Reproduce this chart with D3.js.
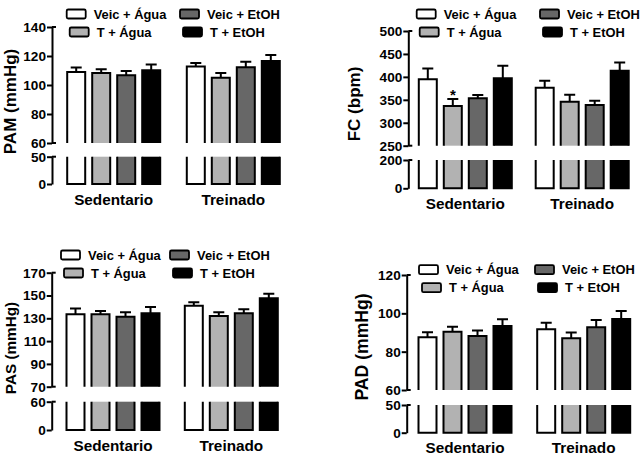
<!DOCTYPE html>
<html><head><meta charset="utf-8">
<script src="https://cdn.jsdelivr.net/npm/d3@7/dist/d3.min.js"></script>
<style>
body{margin:0;background:#fff;}
svg{display:block;font-family:"Liberation Sans",Arial,sans-serif;font-weight:bold;}
</style></head>
<body><svg id="c" width="641" height="468"></svg>
<script>
// ---- data ----
const groups = ["Sedentario", "Treinado"];
const series = ["Veic + Água", "T + Água", "Veic + EtOH", "T + EtOH"];
const seriesColors = ["#ffffff", "#b2b2b2", "#676767", "#000000"];

// values ordered: Sedentario x 4 series, then Treinado x 4 series
const pamMean = [109, 108.3, 106.7, 110.1, 112.7, 105, 112.2, 116.6];
const pamSem  = [3, 2.5, 3, 4, 2.5, 3.3, 3.8, 4.1];
const fcMean  = [395, 336.6, 353.4, 397, 376.5, 346, 338.8, 413.5];
const fcSem   = [23, 15, 7, 27, 15, 15, 9, 18];
const pasMean = [133.5, 133.5, 131.4, 134.4, 141, 132, 134.4, 147.5];
const pasSem  = [5, 3, 4, 5.5, 3, 3.3, 3.5, 4];
const padMean = [87.5, 90.4, 88.2, 93.4, 91.7, 87, 92.7, 97];
const padSem  = [2.6, 2.6, 2.8, 3.5, 3.4, 3, 3.8, 4.2];

const pamTicksUpper = [60, 80, 100, 120, 140];
const pamTicksLower = [0, 50];
const fcTicksUpper  = [250, 300, 350, 400, 450, 500];
const fcTicksLower  = [0, 200];
const pasTicksUpper = [70, 90, 110, 130, 150, 170];
const pasTicksLower = [0, 60];
const padTicksUpper = [60, 80, 100, 120];
const padTicksLower = [0, 50];

const fcStars = [{group: "Sedentario", series: "T + Água", text: "*"}];

// ---- layout (pixel positions only) ----
const panels = [
  {title: "PAM (mmHg)", mean: pamMean, sem: pamSem, tu: pamTicksUpper, tl: pamTicksLower, stars: [],
   ax: 52, up: [143, 27], lo: [184, 156.7], gc: [113.7, 233.3],
   tx: 10.5, ty: 101.5, tfs: 17, lx: 66.7, lx2: 180, ly: 14},
  {title: "FC (bpm)", mean: fcMean, sem: fcSem, tu: fcTicksUpper, tl: fcTicksLower, stars: fcStars,
   ax: 408.3, up: [145.7, 31], lo: [188.3, 160], gc: [465.3, 582.2],
   tx: 354, ty: 104, tfs: 17, lx: 416.7, lx2: 540, ly: 14},
  {title: "PAS (mmHg)", mean: pasMean, sem: pasSem, tu: pasTicksUpper, tl: pasTicksLower, stars: [],
   ax: 51.7, up: [386.7, 272.7], lo: [430, 401.7], gc: [113, 231.3],
   tx: 10, ty: 348, tfs: 15.3, lx: 61, lx2: 170, ly: 255},
  {title: "PAD (mmHg)", mean: padMean, sem: padSem, tu: padTicksUpper, tl: padTicksLower, stars: [],
   ax: 406.7, up: [390, 275], lo: [432.7, 405], gc: [465, 583.7],
   tx: 362, ty: 347, tfs: 17.6, lx: 419, lx2: 535, ly: 269.7}
];

const svg = d3.select("#c");

panels.forEach(p => {
  const g = svg.append("g");
  const yU = d3.scaleLinear().domain(d3.extent(p.tu)).range(p.up);
  const yL = d3.scaleLinear().domain(d3.extent(p.tl)).range(p.lo);
  const x0 = d3.scaleOrdinal().domain(groups).range(p.gc);
  const x1 = d3.scaleBand().domain(series).range([-46.5, 46.5]).paddingInner(0.28);
  const bw = x1.bandwidth();

  const data = [];
  groups.forEach((gr, gi) => series.forEach((s, si) => {
    data.push({group: gr, series: s, ci: si, mean: p.mean[gi * 4 + si], sem: p.sem[gi * 4 + si]});
  }));
  const bx = d => x0(d.group) + x1(d.series);

  // lower bar segments (open top)
  g.selectAll(".lb").data(data).join("path")
    .attr("d", d => {
      const x = bx(d), t = yL(p.tl[1]), b = yL(0);
      return `M${x},${t}V${b}H${x + bw}V${t}`;
    })
    .attr("fill", d => seriesColors[d.ci]).attr("stroke", "#000").attr("stroke-width", 2);

  // error bars (upper only)
  g.selectAll(".eb").data(data).join("path")
    .attr("d", d => {
      const cx = bx(d) + bw / 2, yt = yU(d.mean + d.sem);
      return `M${cx},${yU(d.mean)}V${yt}M${cx - 5.5},${yt}H${cx + 5.5}`;
    })
    .attr("fill", "none").attr("stroke", "#000").attr("stroke-width", 2);

  // upper bar segments (open bottom)
  g.selectAll(".ub").data(data).join("path")
    .attr("d", d => {
      const x = bx(d), t = yU(d.mean), b = yU(p.tu[0]);
      return `M${x},${b}V${t}H${x + bw}V${b}`;
    })
    .attr("fill", d => seriesColors[d.ci]).attr("stroke", "#000").attr("stroke-width", 2);

  // stars
  p.stars.forEach(st => {
    const d = data.find(e => e.group === st.group && e.series === st.series);
    g.append("text").attr("x", bx(d) + bw / 2).attr("y", yU(d.mean + d.sem) + 0.5)
      .attr("text-anchor", "middle").attr("font-size", 15).text(st.text);
  });

  // axes
  const mkAxis = (scale, ticks) => {
    const a = g.append("g").attr("transform", `translate(${p.ax},0)`)
      .call(d3.axisLeft(scale).tickValues(ticks).tickSize(5).tickSizeOuter(0).tickPadding(1));
    a.select(".domain").attr("stroke", "#000").attr("stroke-width", 2);
    a.selectAll(".tick line").attr("stroke", "#000").attr("stroke-width", 2);
    a.selectAll(".tick text").attr("font-size", 13.6).attr("font-family", "Liberation Sans, Arial, sans-serif")
      .attr("font-weight", "bold").attr("fill", "#000");
    return a;
  };
  const aU = mkAxis(yU, p.tu);
  const aL = mkAxis(yL, p.tl);
  // break caps
  [[aU, yU(p.tu[p.tu.length - 1])], [aU, yU(p.tu[0])], [aL, yL(p.tl[1])]].forEach(([a, yy]) => {
    a.append("line").attr("x1", 0).attr("x2", 4).attr("y1", yy).attr("y2", yy)
      .attr("stroke", "#000").attr("stroke-width", 2);
  });

  // group labels
  g.selectAll(".gl").data(groups).join("text")
    .attr("x", d => x0(d)).attr("y", yL(0) + 20.5)
    .attr("text-anchor", "middle").attr("font-size", 15.3).text(d => d);

  // axis title
  g.append("text").attr("transform", `translate(${p.tx},${p.ty}) rotate(-90)`)
    .attr("text-anchor", "middle").attr("dominant-baseline", "central")
    .attr("font-size", p.tfs).text(p.title);

  // legend: 2 columns x 2 rows
  const leg = series.map((s, i) => ({s, i, col: i < 2 ? 0 : 1, row: i % 2}));
  const lg = g.append("g");
  leg.forEach(d => {
    const sx = (d.col === 0 ? p.lx : p.lx2) + d.row * 3;
    const cy = p.ly + d.row * 18;
    lg.append("rect").attr("x", sx).attr("y", cy - 4.5).attr("width", 19).attr("height", 9)
      .attr("rx", 1.5).attr("fill", seriesColors[d.i]).attr("stroke", "#000").attr("stroke-width", 1.8);
    lg.append("text").attr("x", sx + 27).attr("y", cy + 4.6).attr("font-size", 12.9).text(d.s);
  });
});
</script></body></html>
